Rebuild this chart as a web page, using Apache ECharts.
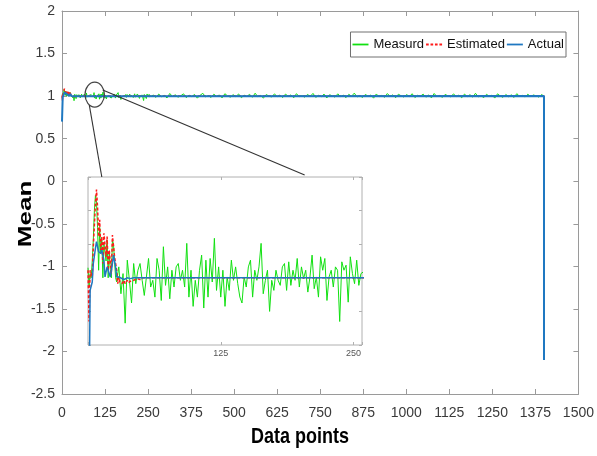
<!DOCTYPE html>
<html>
<head>
<meta charset="utf-8">
<script src="https://cdn.jsdelivr.net/npm/echarts@6/dist/echarts.min.js"></script>
<style>html,body{margin:0;padding:0;background:#fff}#c{width:597px;height:456px}</style>
</head>
<body>
<div id="c"></div>
<script>
// ---------------- data ----------------
const xTicks = [0,125,250,375,500,625,750,875,1000,1125,1250,1375,1500];
const yTicks = [-2.5,-2,-1.5,-1,-0.5,0,0.5,1,1.5,2];
const seriesNames = ['Measurd','Estimated','Actual'];

// Measured: early transient (explicit indices)
const measEarlyX = [0,1,2,3,4,5,6,7,8,9,10,11,12,13,14,15,16,17,18,19,20,21,22,23,24,25,26,27,28];
const measEarlyY = [1.012,0.990,1.005,1.000,1.020,1.045,1.080,1.098,1.090,1.060,1.009,1.060,1.030,1.045,1.000,1.040,1.030,1.020,1.045,1.000,1.030,1.010,1.000,1.045,1.040,1.020,1.000,0.995,1.005];
const measInsetStart = 29, measInsetStep = 2;
const measInsetY = [1.013,0.981,1.005,0.946,1.021,0.997,0.970,1.017,0.993,1.009,1.017,0.997,0.979,1.001,1.023,0.989,0.997,0.977,1.023,1.009,
0.973,1.037,0.991,1.013,0.975,1.009,0.989,1.013,1.017,0.997,1.009,0.989,1.041,0.977,1.009,0.966,0.997,0.977,1.009,1.027,
0.964,1.021,0.977,1.023,0.995,1.047,0.985,1.013,0.977,1.009,0.966,1.001,0.985,1.021,0.997,1.013,0.993,0.977,0.970,1.001,
0.989,1.013,1.021,0.977,1.009,0.997,1.013,1.041,0.981,0.997,1.009,0.960,0.997,0.985,1.009,0.997,0.991,1.013,1.017,0.985,
1.019,0.991,1.009,0.997,1.023,0.989,1.013,0.999,1.009,0.983,1.001,1.027,0.987,1.001,0.977,1.025,1.009,1.023,0.973,1.001,
1.009,0.989,1.013,1.009,0.948,1.019,1.009,1.015,0.971,1.025,1.005,0.993,1.021,0.991,1.005];
// Measured for the rest of the run, indices 265,273,...,1393
const measRestStart = 265, measRestStep = 8;
const measRestY = [1.012,0.985,1.024,0.993,1.008,0.978,1.031,0.996,1.015,0.987,
1.004,1.027,0.982,1.011,0.995,1.019,0.976,1.009,1.033,0.990,
1.006,0.984,1.022,0.998,1.013,0.979,1.028,1.002,0.988,1.017,
0.994,1.025,0.981,1.010,0.997,1.021,0.986,1.034,0.992,1.007,
0.977,1.018,1.001,0.989,1.026,0.995,1.012,0.983,1.023,0.999,
1.014,0.980,1.029,0.993,1.005,0.987,1.020,0.996,1.032,0.985,
1.009,0.991,1.024,0.978,1.016,1.003,0.988,1.027,0.994,1.011,
0.982,1.021,0.998,1.035,0.990,1.006,0.984,1.019,1.000,1.013,
0.976,1.025,0.992,1.008,0.986,1.030,0.997,1.015,0.981,1.022,
1.004,0.989,1.018,0.995,1.028,0.983,1.010,0.999,1.023,0.987,
1.014,0.979,1.031,0.993,1.007,0.985,1.020,1.002,0.990,1.026,
0.996,1.012,0.980,1.024,0.994,1.017,0.988,1.033,0.991,1.005,
0.982,1.021,0.998,1.011,0.977,1.027,1.001,0.986,1.019,0.993,
1.015,0.984,1.029,0.997,1.009,0.990,1.022,0.995,1.013,1.004,
0.988,1.018];
const measEndX = [1400,1400];
const measEndY = [1.0,-2.1];

const estX = [0,1,2,4,5,7,8,9,10,11,12,13,14,15,17,18,19,20,22,23,24,25,27,28,29,30,32,34,35,37,38,40,43,46,49,52,1400,1400];
const estY = [1.009,0.948,1.009,1.001,1.037,1.088,1.105,1.084,1.049,1.069,1.033,1.049,1.017,1.053,1.025,1.049,1.009,1.033,1.005,1.051,1.053,1.025,1.009,0.993,1.001,0.995,0.993,0.997,0.993,0.997,0.994,0.996,0.997,0.999,0.998,1.0,1.0,-2.1];

const actX = [0,2,4,5,7,8,10,12,13,15,16,18,19,21,23,24,26,27,29,30,34,37,40,43,1400,1400];
const actY = [0.70,0.985,0.995,1.017,1.035,1.043,1.031,1.029,1.033,1.021,1.001,1.013,1.009,1.001,1.017,1.027,1.013,1.001,1.001,0.999,0.998,1.0,0.999,1.0,1.0,-2.1];

const insetXTicks = [125,250];
// --------------------------------------

const zip = (xs, ys) => xs.map((x, i) => [x, ys[i]]);
const measured = []
  .concat(zip(measEarlyX, measEarlyY))
  .concat(measInsetY.map((v, i) => [measInsetStart + i * measInsetStep, v]))
  .concat(measRestY.map((v, i) => [measRestStart + i * measRestStep, v]))
  .concat(zip(measEndX, measEndY));
const estimated = zip(estX, estY);
const actual = zip(actX, actY);

const GREEN = '#11e011', RED = '#ff1a1a', BLUE = '#1f78c1';
const AX = '#9a9a9a', LBL = '#3a3a3a';
const FONT = '"Liberation Sans", Arial, sans-serif';

const chart = echarts.init(document.getElementById('c'));

function mkSeries(name, data, color, width, dashed, axi, z) {
  return {
    name, type: 'line', data, xAxisIndex: axi, yAxisIndex: axi,
    showSymbol: false, symbol: 'none', z, clip: true,
    lineStyle: { color, width, type: dashed ? [3, 2] : 'solid' },
    itemStyle: { color },
    emphasis: { disabled: true }
  };
}

const mainAxisCommon = {
  axisLine: { show: true, onZero: false, lineStyle: { color: AX, width: 1 } },
  axisTick: { show: true, inside: true, length: 5, lineStyle: { color: AX } },
  splitLine: { show: false }
};
const insetTick = { show: true, inside: true, length: 3, lineStyle: { color: '#b0b0b0' } };

const ICON_SOLID = 'path://M0,0h18v2h-18z';
const ICON_DASH = 'path://M0,0h3v2h-3z M5,0h3v2h-3z M10,0h3v2h-3z M15,0h3v2h-3z';

const option = {
  animation: false,
  backgroundColor: '#fff',
  grid: [
    { left: 62, right: 18, top: 11, bottom: 62 },
    { left: 88, top: 177, width: 274, height: 168, show: true, backgroundColor: '#fff', borderColor: '#b0b0b0', borderWidth: 1, z: 5 }
  ],
  legend: {
    data: [
      { name: seriesNames[0], icon: ICON_SOLID, itemStyle: { color: GREEN } },
      { name: seriesNames[1], icon: ICON_DASH, itemStyle: { color: RED } },
      { name: seriesNames[2], icon: ICON_SOLID, itemStyle: { color: BLUE } }
    ],
    right: 31, top: 32,
    orient: 'horizontal',
    backgroundColor: '#fff',
    borderColor: '#707070', borderWidth: 1, borderRadius: 0,
    padding: [6, 2, 6, 2],
    itemGap: 2, itemWidth: 16, itemHeight: 2,
    textStyle: { fontFamily: FONT, fontSize: 13, color: '#111' },
    selectedMode: false,
    z: 10
  },
  xAxis: [
    Object.assign({ type: 'value', gridIndex: 0, position: 'bottom', min: 0, max: 1500, interval: 125,
      axisLabel: { fontFamily: FONT, fontSize: 14, color: LBL, margin: 12, formatter: v => String(v) } }, mainAxisCommon),
    Object.assign({ type: 'value', gridIndex: 0, position: 'top', min: 0, max: 1500, interval: 125,
      axisLabel: { show: false } }, mainAxisCommon),
    { type: 'value', gridIndex: 1, position: 'bottom', min: 0, max: 258, interval: 125, z: 6,
      axisLine: { show: false, onZero: false },
      axisTick: insetTick,
      axisLabel: { fontFamily: FONT, fontSize: 9, color: '#555', margin: 4,
        formatter: v => (insetXTicks.indexOf(v) >= 0 ? String(v) : '') },
      splitLine: { show: false } },
    { type: 'value', gridIndex: 1, position: 'top', min: 0, max: 258, interval: 125, z: 6,
      axisLine: { show: false, onZero: false },
      axisTick: insetTick, axisLabel: { show: false }, splitLine: { show: false } }
  ],
  yAxis: [
    Object.assign({ type: 'value', gridIndex: 0, position: 'left', min: -2.5, max: 2, interval: 0.5,
      axisLabel: { fontFamily: FONT, fontSize: 14, color: LBL, margin: 7, formatter: v => String(v) } }, mainAxisCommon),
    Object.assign({ type: 'value', gridIndex: 0, position: 'right', min: -2.5, max: 2, interval: 0.5,
      axisLabel: { show: false } }, mainAxisCommon),
    { type: 'value', gridIndex: 1, position: 'left', min: 0.92, max: 1.12, interval: 0.04, z: 6,
      axisLine: { show: false, onZero: false },
      axisTick: insetTick, axisLabel: { show: false }, splitLine: { show: false } },
    { type: 'value', gridIndex: 1, position: 'right', min: 0.92, max: 1.12, interval: 0.04, z: 6,
      axisLine: { show: false, onZero: false },
      axisTick: insetTick, axisLabel: { show: false }, splitLine: { show: false } }
  ],
  series: [
    mkSeries('Measurd', measured, GREEN, 1, false, 0, 2),
    mkSeries('Estimated', estimated, RED, 1.5, true, 0, 3),
    mkSeries('Actual', actual, BLUE, 2, false, 0, 4),
    mkSeries('Measurd', measured, GREEN, 1, false, 2, 7),
    mkSeries('Estimated', estimated, RED, 1.5, true, 2, 8),
    mkSeries('Actual', actual, BLUE, 1.5, false, 2, 9)
  ]
};

chart.setOption(option);

// annotations: zoom circle + connector lines, titles
const c = chart.convertToPixel({ xAxisIndex: 0, yAxisIndex: 0 }, [95, 1.0]);
const q1 = chart.convertToPixel({ xAxisIndex: 2, yAxisIndex: 2 }, [13, 1.12]);
const q2 = chart.convertToPixel({ xAxisIndex: 2, yAxisIndex: 2 }, [204, 1.12]);
chart.setOption({
  graphic: [
    { type: 'ellipse', z: 20, shape: { cx: c[0], cy: c[1] - 1.5, rx: 9.7, ry: 12.5 },
      style: { fill: 'none', stroke: '#444', lineWidth: 1.2 } },
    { type: 'line', z: 20, shape: { x1: c[0] - 5.4, y1: c[1] + 9, x2: q1[0], y2: q1[1] },
      style: { stroke: '#333', lineWidth: 1.1 } },
    { type: 'line', z: 20, shape: { x1: c[0] + 8, y1: c[1] - 6, x2: q2[0], y2: q2[1] - 2 },
      style: { stroke: '#333', lineWidth: 1.1 } },
    { type: 'text', z: 20, x: 26, y: 214, rotation: Math.PI / 2, scaleX: 1.45,
      style: { text: 'Mean', font: 'bold 18px "Liberation Sans", Arial, sans-serif', fill: '#000',
        align: 'center', verticalAlign: 'middle' } },
    { type: 'text', z: 20, x: 300, y: 437, scaleY: 1.25,
      style: { text: 'Data points', font: 'bold 18px "Liberation Sans", Arial, sans-serif', fill: '#000',
        align: 'center', verticalAlign: 'middle' } }
  ]
});
</script>
</body>
</html>
